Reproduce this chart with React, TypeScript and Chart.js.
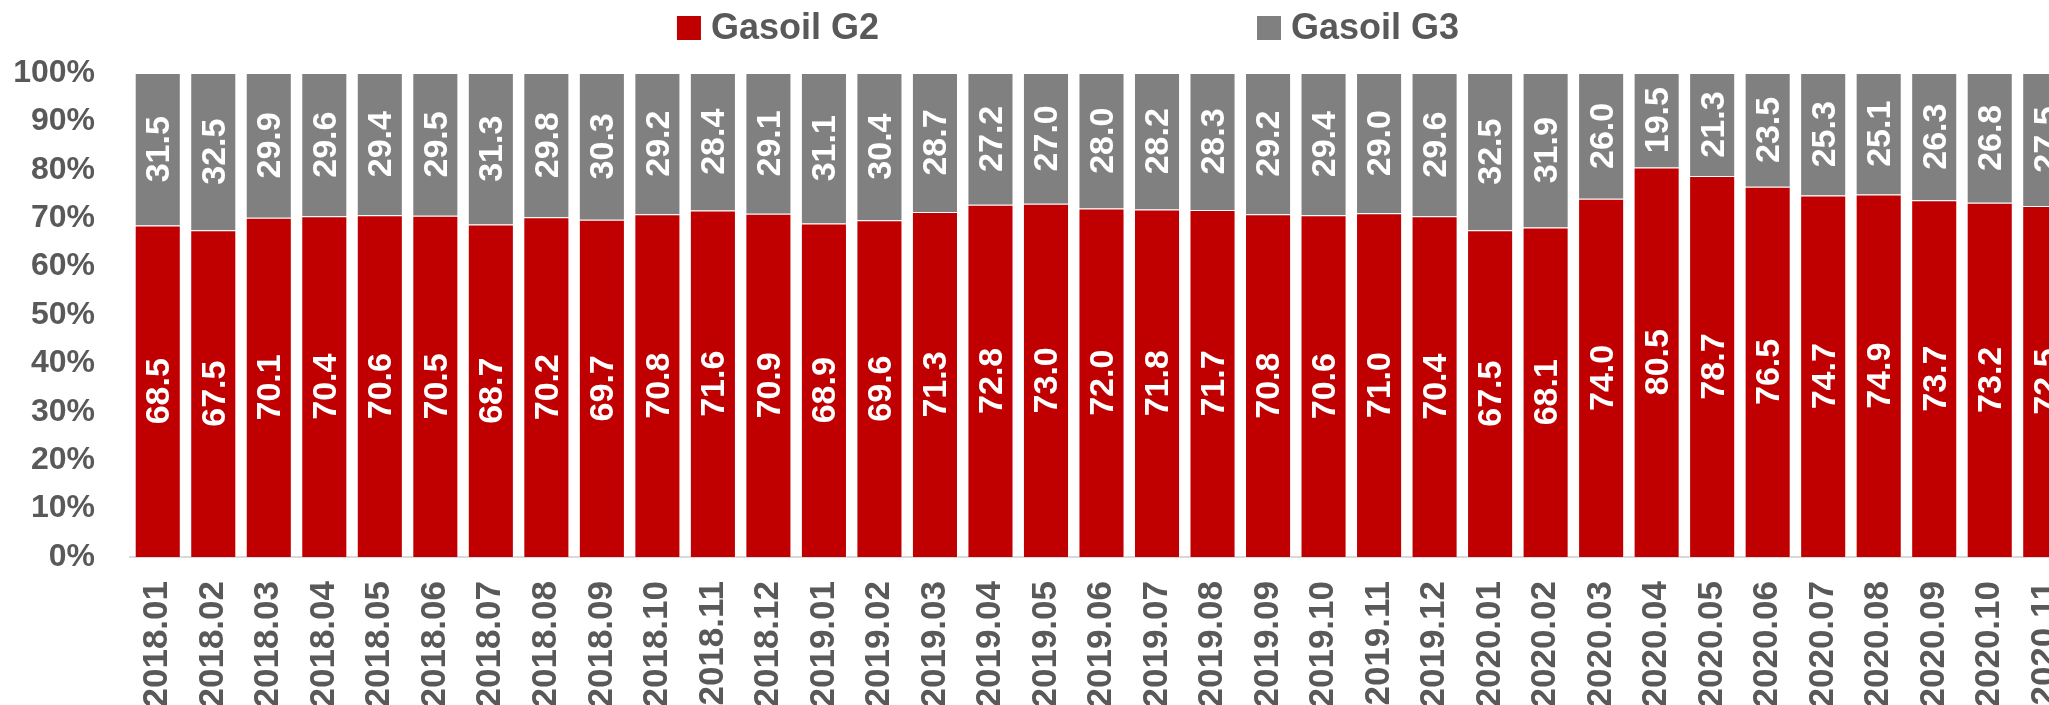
import React, { useEffect, useRef } from "react";
import { Chart, registerables } from "chart.js";

Chart.register(...registerables);

const categories = [
  "2018.01", "2018.02", "2018.03", "2018.04", "2018.05", "2018.06", "2018.07", "2018.08", "2018.09", "2018.10", "2018.11", "2018.12",
  "2019.01", "2019.02", "2019.03", "2019.04", "2019.05", "2019.06", "2019.07", "2019.08", "2019.09", "2019.10", "2019.11", "2019.12",
  "2020.01", "2020.02", "2020.03", "2020.04", "2020.05", "2020.06", "2020.07", "2020.08", "2020.09", "2020.10", "2020.11",
];

const gasoilG2 = [
  68.5, 67.5, 70.1, 70.4, 70.6, 70.5, 68.7, 70.2, 69.7, 70.8, 71.6, 70.9,
  68.9, 69.6, 71.3, 72.8, 73.0, 72.0, 71.8, 71.7, 70.8, 70.6, 71.0, 70.4,
  67.5, 68.1, 74.0, 80.5, 78.7, 76.5, 74.7, 74.9, 73.7, 73.2, 72.5,
];

const gasoilG3 = [
  31.5, 32.5, 29.9, 29.6, 29.4, 29.5, 31.3, 29.8, 30.3, 29.2, 28.4, 29.1,
  31.1, 30.4, 28.7, 27.2, 27.0, 28.0, 28.2, 28.3, 29.2, 29.4, 29.0, 29.6,
  32.5, 31.9, 26.0, 19.5, 21.3, 23.5, 25.3, 25.1, 26.3, 26.8, 27.5,
];

const seriesNames = ["Gasoil G2", "Gasoil G3"];
const seriesColors = ["#C00000", "#808080"];

const FONT = "'Liberation Sans', Arial, sans-serif";
const TEXT_COLOR = "#595959";
const CANVAS_W = 2136;
const CANVAS_H = 705;

const dataLabelPlugin = {
  id: "segmentLabels",
  afterDatasetsDraw(chart: any) {
    const ctx = chart.ctx;
    ctx.save();
    ctx.fillStyle = "#FFFFFF";
    ctx.font = `bold 34px ${FONT}`;
    ctx.textAlign = "center";
    ctx.textBaseline = "middle";
    chart.data.datasets.forEach((ds: any, di: number) => {
      const meta = chart.getDatasetMeta(di);
      meta.data.forEach((el: any, i: number) => {
        const v = ds.data[i];
        const cy = (el.y + el.base) / 2;
        ctx.save();
        ctx.translate(el.x, cy);
        ctx.rotate(-Math.PI / 2);
        ctx.fillText(Number(v).toFixed(1), 0, 2);
        ctx.restore();
      });
    });
    ctx.restore();
  },
};

const legendPlugin = {
  id: "customLegend",
  afterDraw(chart: any) {
    const ctx = chart.ctx;
    const box = 24;
    const textGap = 10;
    const itemGap = 378;
    const cy = 28;
    ctx.save();
    ctx.font = `bold 36px ${FONT}`;
    const items = chart.data.datasets.map((ds: any) => {
      const w = ctx.measureText(ds.label).width;
      return { label: ds.label, color: ds.backgroundColor, width: box + textGap + w };
    });
    const total = items.reduce((s: number, it: any) => s + it.width, 0) + itemGap * (items.length - 1);
    let x = chart.width / 2 - total / 2;
    items.forEach((it: any) => {
      ctx.fillStyle = it.color;
      ctx.fillRect(x, cy - box / 2, box, box);
      ctx.fillStyle = TEXT_COLOR;
      ctx.textAlign = "left";
      ctx.textBaseline = "middle";
      ctx.fillText(it.label, x + box + textGap, cy + 1);
      x += it.width + itemGap;
    });
    ctx.restore();
  },
};

export default function App() {
  const canvasRef = useRef<HTMLCanvasElement | null>(null);

  useEffect(() => {
    if (!canvasRef.current) return;
    const chart = new Chart(canvasRef.current, {
      type: "bar",
      data: {
        labels: categories,
        datasets: [
          {
            label: seriesNames[0],
            data: gasoilG2,
            backgroundColor: seriesColors[0],
            borderColor: "rgba(255,255,255,0.4)",
            borderWidth: 1,
            barPercentage: 0.83,
            categoryPercentage: 1,
          },
          {
            label: seriesNames[1],
            data: gasoilG3,
            backgroundColor: seriesColors[1],
            borderColor: "rgba(255,255,255,0.4)",
            borderWidth: 1,
            barPercentage: 0.83,
            categoryPercentage: 1,
          },
        ],
      },
      options: {
        responsive: false,
        animation: false,
        devicePixelRatio: 1,
        layout: { padding: { top: 73, right: 63, left: 0, bottom: 0 } },
        plugins: {
          legend: { display: false },
          tooltip: { enabled: false },
        },
        scales: {
          x: {
            stacked: true,
            grid: { display: false, drawTicks: false },
            border: { display: true, color: "#D9D9D9", width: 2 },
            ticks: {
              minRotation: 90,
              maxRotation: 90,
              autoSkip: false,
              padding: 24,
              color: TEXT_COLOR,
              font: { family: FONT, size: 35, weight: "bold" },
            },
            afterFit: (scale: any) => {
              scale.height = 148;
            },
          },
          y: {
            stacked: true,
            min: 0,
            max: 100,
            grid: { display: false, drawTicks: false },
            border: { display: false },
            ticks: {
              stepSize: 10,
              padding: 35,
              color: TEXT_COLOR,
              font: { family: FONT, size: 32, weight: "bold" },
              callback: (v: any) => `${v}%`,
            },
            afterFit: (scale: any) => {
              scale.width = 130;
            },
          },
        },
      },
      plugins: [dataLabelPlugin, legendPlugin],
    });
    return () => chart.destroy();
  }, []);

  return (
    <div
      style={{
        position: "fixed",
        left: 0,
        top: 0,
        width: "2049px",
        height: "705px",
        overflow: "hidden",
        background: "#FFFFFF",
      }}
    >
      <canvas
        ref={canvasRef}
        width={CANVAS_W}
        height={CANVAS_H}
        style={{ display: "block", width: `${CANVAS_W}px`, height: `${CANVAS_H}px` }}
      />
    </div>
  );
}
